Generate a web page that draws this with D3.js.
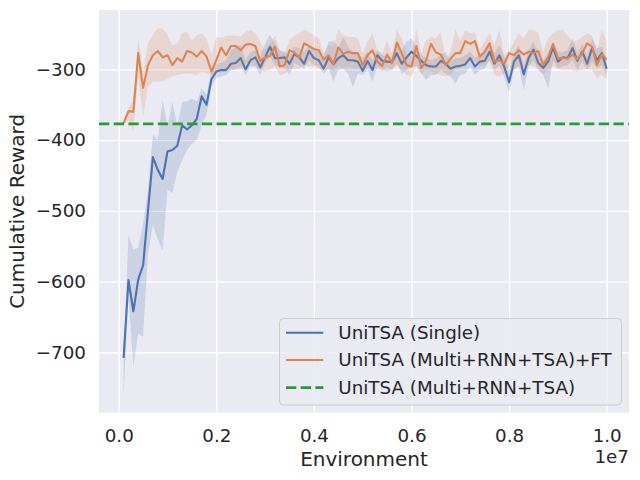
<!DOCTYPE html>
<html>
<head>
<meta charset="utf-8">
<script src="https://cdn.jsdelivr.net/npm/d3@7"></script>
<style>
  body { margin: 0; background: #fff; }
  text { font-family: "DejaVu Sans", sans-serif; fill: #262626; }
</style>
</head>
<body>
<div id="chart"></div>
<script>
// training steps, in units of 1e5
var steps = [1, 2, 3, 4, 5, 6, 7, 8, 9, 10,
  11, 12, 13, 14, 15, 16, 17, 18, 19, 20,
  21, 22, 23, 24, 25, 26, 27, 28, 29, 30,
  31, 32, 33, 34, 35, 36, 37, 38, 39, 40,
  41, 42, 43, 44, 45, 46, 47, 48, 49, 50,
  51, 52, 53, 54, 55, 56, 57, 58, 59, 60,
  61, 62, 63, 64, 65, 66, 67, 68, 69, 70,
  71, 72, 73, 74, 75, 76, 77, 78, 79, 80,
  81, 82, 83, 84, 85, 86, 87, 88, 89, 90,
  91, 92, 93, 94, 95, 96, 97, 98, 99, 100];

var seriesNames = ["UniTSA (Single)", "UniTSA (Multi+RNN+TSA)+FT", "UniTSA (Multi+RNN+TSA)"];

// UniTSA (Single)
var singleMean = [-708, -598, -642, -597, -577, -500, -424, -442, -455, -416,
  -414, -408, -379, -385, -379, -370, -338, -350, -314, -303,
  -301, -301, -292, -291, -284, -300, -287, -283, -297, -283,
  -268, -284, -284, -283, -292, -278, -283, -292, -274, -284,
  -287, -299, -283, -293, -284, -280, -287, -287, -289, -302,
  -288, -301, -280, -288, -289, -290, -277, -292, -283, -275,
  -281, -288, -294, -296, -296, -288, -292, -299, -296, -295,
  -293, -284, -296, -289, -288, -275, -292, -280, -296, -318,
  -289, -280, -307, -284, -272, -291, -298, -289, -269, -289,
  -283, -284, -270, -288, -275, -292, -270, -287, -277, -299];
var singleHigh = [-706, -534, -555, -552, -518, -470, -392, -400, -343, -380,
  -346, -380, -346, -345, -341, -345, -327, -335, -300, -292,
  -291, -287, -273, -268, -266, -287, -275, -273, -282, -263,
  -251, -263, -273, -275, -280, -268, -270, -275, -266, -273,
  -275, -282, -261, -259, -270, -254, -268, -275, -277, -284,
  -275, -287, -273, -280, -282, -282, -266, -273, -261, -256,
  -270, -280, -284, -287, -284, -280, -275, -289, -284, -284,
  -280, -275, -284, -280, -277, -263, -277, -266, -282, -301,
  -277, -266, -294, -273, -261, -277, -287, -277, -263, -275,
  -275, -273, -256, -277, -263, -282, -256, -270, -268, -287];
var singleLow = [-762, -621, -720, -673, -678, -560, -520, -540, -556, -470,
  -475, -445, -428, -414, -405, -400, -379, -365, -325, -312,
  -310, -308, -301, -301, -296, -308, -296, -296, -308, -291,
  -282, -294, -296, -299, -308, -291, -294, -299, -287, -294,
  -296, -306, -299, -317, -301, -299, -306, -325, -306, -308,
  -301, -317, -296, -301, -303, -301, -291, -306, -301, -296,
  -296, -306, -315, -308, -308, -301, -306, -310, -320, -308,
  -306, -296, -308, -301, -299, -287, -301, -294, -310, -332,
  -301, -296, -329, -296, -287, -301, -308, -327, -287, -299,
  -296, -294, -287, -301, -289, -301, -289, -299, -294, -308];

// UniTSA (Multi+RNN+TSA)+FT
var ftMean = [-376, -359, -360, -277, -326, -294, -280, -274, -283, -280,
  -294, -284, -289, -274, -276, -282, -274, -282, -303, -287,
  -269, -280, -267, -267, -273, -265, -264, -267, -288, -283,
  -281, -268, -296, -294, -273, -276, -283, -263, -267, -271,
  -273, -286, -280, -292, -269, -278, -275, -277, -277, -294,
  -280, -273, -289, -295, -279, -291, -262, -277, -294, -296,
  -267, -298, -287, -264, -276, -279, -294, -285, -277, -277,
  -260, -264, -260, -282, -275, -263, -289, -287, -292, -277,
  -280, -273, -279, -275, -277, -274, -294, -283, -264, -284,
  -284, -285, -279, -286, -277, -263, -268, -294, -279, -286];
var ftHigh = [-374, -355, -343, -256, -303, -263, -251, -242, -242, -251,
  -266, -263, -249, -247, -259, -252, -249, -256, -280, -254,
  -256, -252, -252, -252, -254, -247, -244, -249, -261, -273,
  -263, -252, -273, -277, -259, -252, -249, -244, -247, -252,
  -256, -277, -266, -268, -244, -252, -254, -254, -256, -277,
  -261, -249, -273, -277, -259, -277, -244, -256, -277, -282,
  -244, -277, -259, -254, -256, -247, -287, -275, -244, -259,
  -244, -249, -247, -273, -259, -249, -266, -244, -280, -273,
  -261, -249, -256, -244, -244, -249, -275, -256, -249, -244,
  -244, -252, -261, -259, -254, -249, -252, -275, -244, -259];
var ftLow = [-378, -372, -386, -310, -367, -325, -317, -317, -317, -313,
  -310, -308, -306, -306, -306, -308, -303, -306, -308, -306,
  -299, -301, -301, -299, -301, -291, -289, -296, -301, -303,
  -301, -296, -308, -306, -299, -299, -299, -294, -296, -296,
  -299, -301, -299, -303, -296, -299, -296, -299, -299, -301,
  -294, -296, -301, -303, -296, -301, -294, -301, -308, -310,
  -294, -306, -301, -303, -306, -308, -310, -308, -299, -299,
  -291, -289, -287, -296, -294, -289, -308, -310, -306, -296,
  -299, -296, -296, -294, -296, -299, -306, -301, -296, -299,
  -301, -301, -301, -303, -301, -299, -301, -313, -308, -314];

// UniTSA (Multi+RNN+TSA) reference level
var baselineReward = -377;

var xTicks = [0, 2e6, 4e6, 6e6, 8e6, 1e7];
var yTicks = [-700, -600, -500, -400, -300];
var colors = ["#4C72B0", "#DD8452", "#2a9a32"];

var width = 640, height = 480;
// plot area edges (window.top is taken, so prefix them)
var pLeft = 99, pRight = 629, pTop = 10, pBottom = 412.7;

var svg = d3.select("#chart").append("svg")
  .attr("width", width)
  .attr("height", height);

var x = d3.scaleLinear().domain([-4.04e5, 1.0457e7]).range([pLeft, pRight]);
var y = d3.scaleLinear().domain([-785.5, -216]).range([pBottom, pTop]);

svg.append("rect")
  .attr("x", pLeft).attr("y", pTop)
  .attr("width", pRight - pLeft).attr("height", pBottom - pTop)
  .attr("fill", "#EAEAF2");

// grid
svg.append("g")
  .attr("transform", "translate(0," + pBottom + ")")
  .call(d3.axisBottom(x).tickValues(xTicks).tickSize(-(pBottom - pTop)).tickFormat(""))
  .call(function(g) { g.select(".domain").remove(); })
  .selectAll("line").attr("stroke", "#fff").attr("stroke-width", 1.3);
svg.append("g")
  .attr("transform", "translate(" + pLeft + ",0)")
  .call(d3.axisLeft(y).tickValues(yTicks).tickSize(-(pRight - pLeft)).tickFormat(""))
  .call(function(g) { g.select(".domain").remove(); })
  .selectAll("line").attr("stroke", "#fff").attr("stroke-width", 1.3);

// tick labels
var xAxis = svg.append("g")
  .attr("transform", "translate(0," + pBottom + ")")
  .call(d3.axisBottom(x).tickValues(xTicks).tickSize(0).tickPadding(16)
    .tickFormat(function(d) { return d3.format(".1f")(d / 1e7); }));
var yAxis = svg.append("g")
  .attr("transform", "translate(" + pLeft + ",0)")
  .call(d3.axisLeft(y).tickValues(yTicks).tickSize(0).tickPadding(13).tickFormat(d3.format("d")));
[xAxis, yAxis].forEach(function(g) {
  g.select(".domain").remove();
  g.selectAll("text")
    .style("font-family", "DejaVu Sans")
    .style("font-size", "18.3px")
    .attr("fill", "#262626");
});

svg.append("clipPath").attr("id", "plotclip")
  .append("rect")
  .attr("x", pLeft).attr("y", pTop)
  .attr("width", pRight - pLeft).attr("height", pBottom - pTop);

var plot = svg.append("g").attr("clip-path", "url(#plotclip)");

function rows(mean, low, high) {
  return steps.map(function(s, i) {
    return { x: s * 1e5, y: mean[i], lo: low[i], hi: high[i] };
  });
}

var band = d3.area()
  .x(function(d) { return x(d.x); })
  .y0(function(d) { return y(d.lo); })
  .y1(function(d) { return y(d.hi); });
var line = d3.line()
  .x(function(d) { return x(d.x); })
  .y(function(d) { return y(d.y); });

[rows(singleMean, singleLow, singleHigh), rows(ftMean, ftLow, ftHigh)].forEach(function(data, k) {
  plot.append("path")
    .attr("d", band(data))
    .attr("fill", colors[k])
    .attr("fill-opacity", 0.2)
    .attr("stroke", "none");
  plot.append("path")
    .attr("d", line(data))
    .attr("fill", "none")
    .attr("stroke", colors[k])
    .attr("stroke-width", 2.1)
    .attr("stroke-linejoin", "round");
});

plot.append("line")
  .attr("x1", pLeft).attr("x2", pRight)
  .attr("y1", y(baselineReward)).attr("y2", y(baselineReward))
  .attr("stroke", colors[2])
  .attr("stroke-width", 2.8)
  .attr("stroke-dasharray", "10.3,4.4");

// axis labels
svg.append("text")
  .attr("x", (pLeft + pRight) / 2).attr("y", 466)
  .attr("text-anchor", "middle")
  .style("font-size", "20px")
  .text("Environment");
svg.append("text")
  .attr("transform", "translate(24," + ((pTop + pBottom) / 2) + ") rotate(-90)")
  .attr("text-anchor", "middle")
  .style("font-size", "20px")
  .text("Cumulative Reward");
svg.append("text")
  .attr("x", pRight).attr("y", 463)
  .attr("text-anchor", "end")
  .style("font-size", "18.3px")
  .text("1e7");

// legend
var legend = svg.append("g");
legend.append("rect")
  .attr("x", 279.5).attr("y", 318.5)
  .attr("width", 342).attr("height", 86.5)
  .attr("rx", 4)
  .attr("fill", "#EAEAF2").attr("fill-opacity", 0.8)
  .attr("stroke", "#cccccc").attr("stroke-width", 1);
var legendY = [332.7, 360, 387.7];
seriesNames.forEach(function(name, i) {
  legend.append("line")
    .attr("x1", 286).attr("x2", 323.3)
    .attr("y1", legendY[i]).attr("y2", legendY[i])
    .attr("stroke", colors[i])
    .attr("stroke-width", i == 2 ? 2.8 : 2.1)
    .attr("stroke-dasharray", i == 2 ? "10.3,4.4" : null);
  legend.append("text")
    .attr("x", 338.3).attr("y", legendY[i])
    .attr("dy", "0.35em")
    .style("font-size", "18.3px")
    .text(name);
});
</script>
</body>
</html>
